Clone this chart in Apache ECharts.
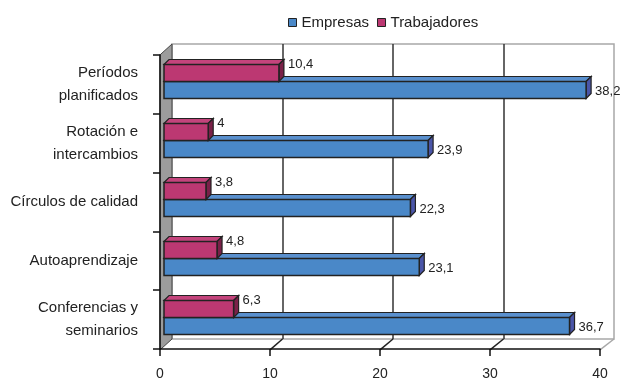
<!DOCTYPE html>
<html><head><meta charset="utf-8">
<script src="https://cdn.jsdelivr.net/npm/echarts@6/dist/echarts.min.js"></script>
<style>html,body{margin:0;padding:0;background:#fff}#c{width:623px;height:381px}</style>
</head><body><div id="c"></div>
<script>
const categories = ['Períodos\nplanificados', 'Rotación e\nintercambios', 'Círculos de calidad', 'Autoaprendizaje', 'Conferencias y\nseminarios'];
const seriesNames = ['Empresas', 'Trabajadores'];
const empresas = [38.2, 23.9, 22.3, 23.1, 36.7];
const trabajadores = [10.4, 4, 3.8, 4.8, 6.3];
const xMin = 0, xMax = 40, xStep = 10;

const FONT = '"Liberation Sans", Arial, sans-serif';
const DX = 5, DY = 5, BAR_H = 17;

function fmt(v) { return String(v).replace('.', ','); }

function bar3D(which, colors) {
  return function (params, api) {
    const cat = api.value(0), val = api.value(1);
    const p0 = api.coord([0, cat]);
    const p1 = api.coord([val, cat]);
    const yc = p0[1];
    const y0 = which === 0 ? yc : yc - BAR_H;
    const y1 = y0 + BAR_H;
    const x0 = p0[0], x1 = p1[0];
    const labelY = which === 0 ? (y0 + y1) / 2 + 1 : y0;
    return {
      type: 'group',
      children: [
        { type: 'polygon', shape: { points: [[x0, y0], [x1, y0], [x1 + DX, y0 - DY], [x0 + DX, y0 - DY]] },
          style: { fill: colors.top, stroke: '#222', lineWidth: 1.2 } },
        { type: 'polygon', shape: { points: [[x1, y0], [x1 + DX, y0 - DY], [x1 + DX, y1 - DY], [x1, y1]] },
          style: { fill: colors.side, stroke: '#222', lineWidth: 1.2 } },
        { type: 'rect', shape: { x: x0, y: y0, width: x1 - x0, height: BAR_H },
          style: { fill: colors.front, stroke: '#222', lineWidth: 1.5 } },
        { type: 'text', style: { text: fmt(val), x: x1 + DX + 4, y: labelY, fill: '#222',
          font: '13px ' + FONT, verticalAlign: 'middle', align: 'left' } }
      ]
    };
  };
}

const chart = echarts.init(document.getElementById('c'));
const hiddenVal = (gi) => ({ type: 'value', gridIndex: gi, min: xMin, max: xMax, interval: xStep, show: false });
const hiddenCat = (gi) => ({ type: 'category', gridIndex: gi, data: categories, inverse: true, show: false });

chart.setOption({
  animation: false,
  textStyle: { fontFamily: FONT },
  legend: {
    data: seriesNames, left: 283, top: 10, icon: 'rect', itemWidth: 8, itemHeight: 8, itemGap: 8,
    textStyle: { fontSize: 15, color: '#222', fontFamily: FONT },
    itemStyle: { borderColor: '#222', borderWidth: 1 }
  },
  grid: [
    { left: 172, top: 44, width: 442, height: 295, show: true, backgroundColor: '#fff', borderColor: '#a8a8a8', borderWidth: 1.5, z: 0 },
    { left: 164, top: 52, width: 442, height: 295 },
    { left: 160, top: 55, width: 440, height: 295 }
  ],
  xAxis: [
    { type: 'value', gridIndex: 0, min: xMin, max: xMax, interval: xStep,
      axisLine: { show: false }, axisTick: { show: false }, axisLabel: { show: false },
      splitLine: { show: true, showMinLine: false, showMaxLine: false, lineStyle: { color: '#333', width: 1.5 } } },
    hiddenVal(1),
    { type: 'value', gridIndex: 2, min: xMin, max: xMax, interval: xStep, z: 3,
      axisLine: { show: true, lineStyle: { color: '#111', width: 1.5 } },
      axisTick: { show: true, length: 7, lineStyle: { color: '#111', width: 1.5 } },
      axisLabel: { fontSize: 14, color: '#222', margin: 18, fontFamily: FONT },
      splitLine: { show: false } }
  ],
  yAxis: [
    hiddenCat(0),
    hiddenCat(1),
    { type: 'category', gridIndex: 2, data: categories, inverse: true, z: 3,
      axisLine: { show: true, lineStyle: { color: '#111', width: 1.5 } },
      axisTick: { show: true, length: 7, lineStyle: { color: '#111', width: 1.5 } },
      axisLabel: { fontSize: 15, color: '#222', margin: 22, lineHeight: 23, align: 'right', padding: [5, 0, 0, 0], fontFamily: FONT } }
  ],
  series: [
    { name: 'Empresas', type: 'custom', xAxisIndex: 1, yAxisIndex: 1, z: 5,
      itemStyle: { color: '#4A88C8' },
      encode: { y: 0, x: 1 },
      data: empresas.map((v, i) => [i, v]),
      renderItem: bar3D(0, { front: '#4A88C8', top: '#5A90CE', side: '#4A55A8' }) },
    { name: 'Trabajadores', type: 'custom', xAxisIndex: 1, yAxisIndex: 1, z: 6,
      itemStyle: { color: '#BC3872' },
      encode: { y: 0, x: 1 },
      data: trabajadores.map((v, i) => [i, v]),
      renderItem: bar3D(1, { front: '#BC3872', top: '#C4447C', side: '#7A2048' }) }
  ]
});

// Decorative 3D walls computed from the axes
const ticks = [];
for (let v = xMin; v <= xMax; v += xStep) ticks.push(v);
const fx = v => chart.convertToPixel({ xAxisIndex: 2 }, v);
const bx = v => chart.convertToPixel({ xAxisIndex: 0 }, v);
const frontTop = chart.convertToPixel({ yAxisIndex: 2 }, 0) - 29.5;
const frontBot = frontTop + 295;
const backTop = 44, backBot = 339;
const graphics = [];
graphics.push({ type: 'polygon', z: 1, shape: { points: [[fx(0), frontTop], [bx(0), backTop], [bx(0), backBot], [fx(0), frontBot]] },
  style: { fill: '#9c9c9c', stroke: '#444', lineWidth: 1 } });
ticks.forEach(v => {
  const inner = v !== xMin && v !== xMax;
  if (v === xMin) return;
  graphics.push({ type: 'line', z: 1, shape: { x1: fx(v), y1: frontBot, x2: bx(v), y2: backBot },
    style: { stroke: inner ? '#222' : '#a8a8a8', lineWidth: 1.5 } });
});
chart.setOption({ graphic: graphics });
</script>
</body></html>
